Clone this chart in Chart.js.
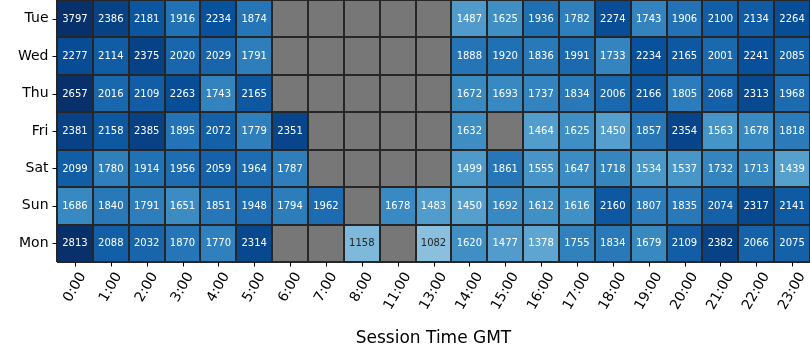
<!DOCTYPE html>
<html>
<head>
<meta charset="utf-8">
<script src="https://cdn.jsdelivr.net/npm/chart.js@4"></script>
<style>
  html, body { margin: 0; padding: 0; background: #fff; }
  #wrap { width: 810px; height: 360px; }
</style>
</head>
<body>
<div id="wrap"><canvas id="heat" width="810" height="360"></canvas></div>
<script>
const hours = ["0:00","1:00","2:00","3:00","4:00","5:00","6:00","7:00","8:00","11:00","13:00",
  "14:00","15:00","16:00","17:00","18:00","19:00","20:00","21:00","22:00","23:00"];
const days = ["Tue","Wed","Thu","Fri","Sat","Sun","Mon"];

const tue = [3797,2386,2181,1916,2234,1874,null,null,null,null,null,1487,1625,1936,1782,2274,1743,1906,2100,2134,2264];
const wed = [2277,2114,2375,2020,2029,1791,null,null,null,null,null,1888,1920,1836,1991,1733,2234,2165,2001,2241,2085];
const thu = [2657,2016,2109,2263,1743,2165,null,null,null,null,null,1672,1693,1737,1834,2006,2166,1805,2068,2313,1968];
const fri = [2381,2158,2385,1895,2072,1779,2351,null,null,null,null,1632,null,1464,1625,1450,1857,2354,1563,1678,1818];
const sat = [2099,1780,1914,1956,2059,1964,1787,null,null,null,null,1499,1861,1555,1647,1718,1534,1537,1732,1713,1439];
const sun = [1686,1840,1791,1651,1851,1948,1794,1962,null,1678,1483,1450,1692,1612,1616,2160,1807,1835,2074,2317,2141];
const mon = [2813,2088,2032,1870,1770,2314,null,null,1158,null,1082,1620,1477,1378,1755,1834,1679,2109,2382,2066,2075];

const rows = [tue, wed, thu, fri, sat, sun, mon];

// colour scale (matplotlib "Blues"), values clipped to this range
const vmin = 0, vmax = 2550;
const blues = ["#f7fbff","#deebf7","#c6dbef","#9ecae1","#6baed6","#4292c6","#2171b5","#08519c","#08306b"];
const missingColor = "#777777";

function hexToRgb(h) {
  return [parseInt(h.slice(1,3),16), parseInt(h.slice(3,5),16), parseInt(h.slice(5,7),16)];
}
function bluesRgb(v) {
  let t = (v - vmin) / (vmax - vmin);
  t = Math.max(0, Math.min(1, t));
  const pos = t * (blues.length - 1);
  const i = Math.min(Math.floor(pos), blues.length - 2);
  const f = pos - i;
  const a = hexToRgb(blues[i]), b = hexToRgb(blues[i + 1]);
  return a.map((c, k) => Math.round(c + (b[k] - c) * f));
}
function cellColor(v) {
  if (v === null) return missingColor;
  const c = bluesRgb(v);
  return `rgb(${c[0]},${c[1]},${c[2]})`;
}
// same rule as seaborn annotations: dark text on light cells
function textColor(v) {
  const lin = bluesRgb(v).map(c => {
    c = c / 255;
    return c <= 0.03928 ? c / 12.92 : Math.pow((c + 0.055) / 1.055, 2.4);
  });
  const lum = 0.2126 * lin[0] + 0.7152 * lin[1] + 0.0722 * lin[2];
  return lum > 0.408 ? "#262626" : "#ffffff";
}

const datasets = rows.map((vals, r) => ({
  label: days[r],
  data: vals.map((v, i) => ({ x: hours[i], y: [r - 0.5, r + 0.5], v: v })),
  backgroundColor: vals.map(cellColor),
  borderWidth: 0,
  grouped: false,
  barPercentage: 1,
  categoryPercentage: 1
}));

const FONT = "'DejaVu Sans', sans-serif";

// cell separators, annotations, tick marks, tick labels and axis title
const decorations = {
  id: "decorations",
  afterDatasetsDraw(chart) {
    const ctx = chart.ctx;
    const area = chart.chartArea;
    const xs = chart.scales.x, ys = chart.scales.y;
    ctx.save();

    // separators between cells
    ctx.strokeStyle = "#262626";
    ctx.lineWidth = 2;
    const half = (xs.getPixelForValue(1) - xs.getPixelForValue(0)) / 2;
    for (let i = 0; i <= hours.length; i++) {
      const x = Math.round(xs.getPixelForValue(0) - half + i * 2 * half);
      ctx.beginPath();
      ctx.moveTo(x, area.top);
      ctx.lineTo(x, area.bottom);
      ctx.stroke();
    }
    for (let r = 0; r <= days.length; r++) {
      const y = Math.round(ys.getPixelForValue(r - 0.5));
      ctx.beginPath();
      ctx.moveTo(area.left, y);
      ctx.lineTo(area.right, y);
      ctx.stroke();
    }

    // cell values
    ctx.font = "10px " + FONT;
    ctx.textAlign = "center";
    ctx.textBaseline = "middle";
    chart.data.datasets.forEach((ds, d) => {
      const meta = chart.getDatasetMeta(d);
      meta.data.forEach((bar, i) => {
        const v = ds.data[i].v;
        if (v === null) return;
        ctx.fillStyle = textColor(v);
        ctx.fillText(String(v), bar.x, (bar.y + bar.base) / 2 + 0.5);
      });
    });

    ctx.strokeStyle = "#000";
    ctx.fillStyle = "#000";
    ctx.lineWidth = 1;

    // y axis
    ctx.font = "14px " + FONT;
    ctx.textAlign = "right";
    days.forEach((d, r) => {
      const y = ys.getPixelForValue(r);
      ctx.beginPath();
      ctx.moveTo(area.left - 4.5, Math.round(y) + 0.5);
      ctx.lineTo(area.left, Math.round(y) + 0.5);
      ctx.stroke();
      ctx.fillText(d, area.left - 8.5, y);
    });

    // x axis, labels rotated 60 degrees and centred on their tick
    const ang = Math.PI / 3;
    const h = 15;
    hours.forEach((lab, i) => {
      const x = xs.getPixelForValue(i);
      ctx.beginPath();
      ctx.moveTo(Math.round(x) + 0.5, area.bottom);
      ctx.lineTo(Math.round(x) + 0.5, area.bottom + 4.5);
      ctx.stroke();
      const w = ctx.measureText(lab).width;
      const H = w * Math.sin(ang) + h * Math.cos(ang);
      const top = area.bottom + 8;
      ctx.save();
      ctx.translate(x, top + H / 2);
      ctx.rotate(-ang);
      ctx.textAlign = "center";
      ctx.fillText(lab, 0, 0);
      ctx.restore();
    });

    ctx.font = "17px " + FONT;
    ctx.textAlign = "center";
    ctx.fillText("Session Time GMT", (area.left + area.right) / 2, 339);

    ctx.restore();
  }
};

new Chart(document.getElementById("heat"), {
  type: "bar",
  data: { labels: hours, datasets },
  options: {
    responsive: false,
    animation: false,
    layout: { padding: { left: 57, right: 0, top: 0, bottom: 98 } },
    scales: {
      x: { type: "category", display: false, offset: true, grid: { display: false } },
      y: { type: "linear", display: false, min: -0.5, max: 6.5, reverse: true }
    },
    plugins: { legend: { display: false }, tooltip: { enabled: false } }
  },
  plugins: [decorations]
});
</script>
</body>
</html>
